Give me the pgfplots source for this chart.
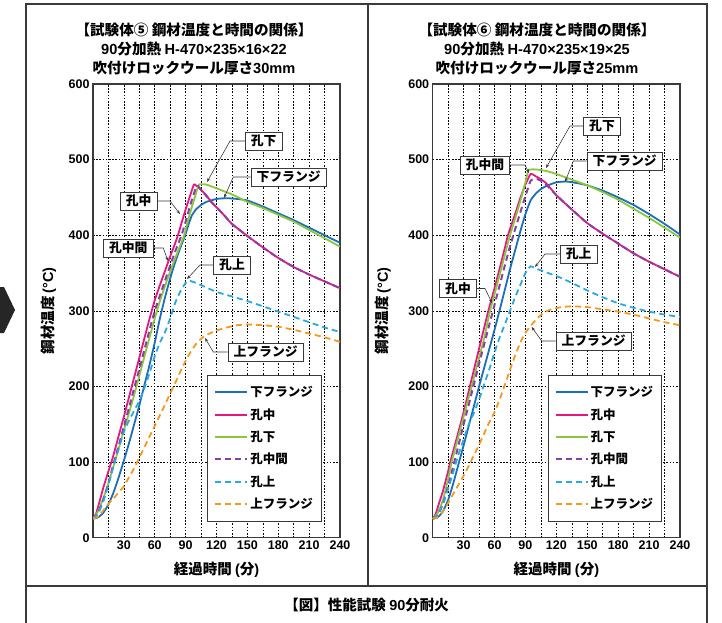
\documentclass[border=0pt]{standalone}
\usepackage{fontspec}
\setmainfont{Noto Sans CJK JP}
\newfontfamily\lat{Liberation Sans}
\usepackage{pgfplots}
\pgfplotsset{compat=1.18}
\usetikzlibrary{arrows.meta}

\definecolor{cBlue}{RGB}{26,111,184}
\definecolor{cMag}{RGB}{228,25,127}
\definecolor{cGreen}{RGB}{140,198,63}
\definecolor{cViolet}{RGB}{135,65,165}
\definecolor{cLB}{RGB}{42,168,224}
\definecolor{cOr}{RGB}{243,154,30}
\definecolor{frame}{RGB}{58,58,58}

\newcommand{\fs}[1]{\bfseries\fontsize{#1}{#1}\selectfont}
\newcommand{\la}[1]{{\lat #1}}

\pgfplotsset{panel/.style={
  scale only axis, width=247pt, height=453.7pt,
  xmin=0, xmax=240, ymin=0, ymax=600,
  xtick={30,60,...,240}, minor xtick={15,45,...,225},
  ytick={0,100,...,600},
  grid=both,
  major grid style={black, line width=0.6pt, dash pattern=on 1.6pt off 1.6pt},
  minor grid style={black, line width=0.6pt, dash pattern=on 1.6pt off 1.6pt},
  major tick length=0pt, minor tick length=0pt,
  axis line style={frame, line width=1.1pt},
  tick label style={font=\lat\fs{12.5}},
  /pgf/number format/assume math mode=true,
  xlabel={経過時間 \la{(}分\la{)}}, ylabel={鋼材温度 \la{(°C)}},
  label style={font=\fs{14.5}},
  xlabel style={at={(axis description cs:0.5,-0.07)}, anchor=center},
  legend cell align=left,
  legend style={anchor=north west, draw=frame, line width=0.9pt, fill=white,
    font=\fs{12.5}, inner xsep=6.5pt, inner ysep=9pt, row sep=6.3pt,
    nodes={inner sep=2pt}},
  legend image code/.code={\draw[#1] (0pt,0pt) -- (32pt,0pt);},
  every axis plot/.append style={line width=1.8pt, no marks, smooth, tension=0.3},
}}

\tikzset{box/.style={draw=frame, line width=0.8pt, fill=white, font=\fs{12.8},
    inner xsep=5.5pt, inner ysep=0pt, minimum height=18pt},
  lead/.style={frame, line width=0.6pt, -{Stealth[length=4pt,width=3pt]}},
  dsh/.style={dash pattern=on 6pt off 4pt}}

\begin{document}
\begin{tikzpicture}
% ---------------- left panel ----------------
\begin{axis}[panel, at={(93pt,-537.7pt)}, anchor=south west,
  ylabel style={at={(axis description cs:-0.18,0.5)}, anchor=center},
  legend style={at={(0.463,0.3586)}}]
\addplot[cBlue] coordinates {(0,25)(5,27)(10,33)(15,44)(20,60)(25,80)(30,102)(35,125)(40,150)(45,175)(50,202)(55,229)(60,258)(65,290)(70,318)(75,343)(80,365)(85,384)(90,402)(93,415)(96,426)(100,434)(105,440)(110,444)(120,448)(130,449)(140,448)(150,446)(165,438)(180,429)(195,420)(210,410)(225,400)(240,390)};
\addlegendentry{下フランジ}
\addplot[cMag] coordinates {(0,25)(3,32)(6,46)(10,66)(15,88)(19,105)(25,135)(30,160)(35,186)(40,212)(45,238)(50,264)(55,290)(60,314)(65,334)(70,353)(75,372)(80,390)(83,402)(86,416)(90,434)(95,455)(98,467)(100,466)(105,460)(110,453)(115,444)(120,437)(127,427)(135,415)(150,399)(165,384)(180,370)(195,358)(210,348)(225,339)(240,330)};
\addlegendentry{孔中}
\addplot[cGreen] coordinates {(0,25)(5,35)(10,52)(15,72)(20,95)(25,118)(30,142)(35,165)(40,189)(45,214)(50,240)(55,265)(60,290)(65,313)(70,333)(75,352)(80,370)(85,387)(88.6,400)(92,418)(96,437)(100,455)(103,467)(110,467)(120,462)(135,454)(150,444)(165,436)(180,427)(195,418)(210,407)(225,396)(240,385)};
\addlegendentry{孔下}
\addplot[color=cViolet, line width=2pt, dash pattern=on 6pt off 4pt] coordinates {(0,25)(5,33)(10,50)(15,72)(20,98)(25,122)(30,147)(35,172)(40,198)(45,223)(50,249)(55,275)(60,300)(65,320)(70,340)(75,360)(80,379)(86,400)(90,418)(95,442)(100,463)(102,465)(105,460)(110,452)(115,444)(120,437)(127,427)(135,415)(150,399)(165,384)(180,370)(195,358)(210,348)(225,339)(240,330)};
\addlegendentry{孔中間}
\addplot[cLB, dsh] coordinates {(0,25)(5,32)(10,48)(15,70)(20,95)(25,118)(30,140)(35,155)(40,168)(45,181)(50,198)(55,218)(60,240)(65,258)(70,272)(75,290)(80,311)(85,326)(90,337)(93,340)(100,337)(110,331)(120,325)(135,319)(150,313)(165,306)(180,299)(195,292)(210,285)(225,278)(240,272)};
\addlegendentry{孔上}
\addplot[cOr, dsh] coordinates {(0,25)(5,28)(10,36)(15,45)(20,52)(25,60)(30,68)(35,80)(40,92)(45,106)(50,120)(55,134)(60,148)(65,162)(70,176)(75,191)(80,205)(85,220)(90,234)(95,246)(100,256)(105,263)(110,268)(120,274)(130,278)(140,281)(150,282)(165,281)(180,279)(195,275)(210,270)(225,265)(240,259)};
\addlegendentry{上フランジ}
\end{axis}
% ---------------- right panel ----------------
\begin{axis}[panel, at={(432.7pt,-537.7pt)}, anchor=south west, width=247.3pt,
  ylabel style={at={(axis description cs:-0.2,0.5)}, anchor=center},
  legend style={at={(0.465,0.3586)}}]
\addplot[cBlue] coordinates {(0,25)(5,27)(10,35)(15,50)(20,72)(25,97)(30,122)(35,148)(40,174)(45,200)(50,225)(55,250)(60,275)(65,301)(70,328)(75,355)(80,380)(85,405)(90,428)(95,446)(100,455)(105,461)(110,465)(120,470)(130,471)(140,469)(150,466)(165,459)(180,450)(195,440)(210,428)(225,415)(240,401)};
\addlegendentry{下フランジ}
\addplot[cMag] coordinates {(0,25)(3,32)(6,45)(10,62)(15,88)(17,100)(20,115)(25,140)(30,166)(35,194)(40,222)(45,250)(50,278)(54,300)(60,330)(65,356)(70,383)(73,400)(80,428)(85,449)(90,467)(95,481)(100,478)(105,474)(110,469)(115,461)(120,453)(127,444)(135,434)(150,416)(165,402)(180,389)(195,376)(210,365)(225,355)(240,345)};
\addlegendentry{孔中}
\addplot[cGreen] coordinates {(0,25)(5,33)(10,50)(15,78)(18.4,100)(25,134)(30,160)(35,186)(37.8,200)(45,238)(50,264)(55.6,300)(60,322)(65,348)(70,374)(75,400)(80,422)(85,445)(90,470)(93,486)(100,487)(110,485)(120,481)(130,476)(140,471)(150,466)(165,457)(180,447)(195,435)(210,423)(225,410)(240,397)};
\addlegendentry{孔下}
\addplot[color=cViolet, line width=2pt, dash pattern=on 6pt off 4pt] coordinates {(0,25)(5,30)(10,45)(15,68)(20,95)(25,122)(30,150)(35,176)(40,203)(45,230)(50,256)(55,282)(60,308)(65,334)(70,360)(75,385)(80,408)(85,430)(90,452)(95,472)(98,474)(102,474)(105,472)(110,467)(115,460)(120,453)(127,444)(135,434)(150,416)(165,402)(180,389)(195,376)(210,365)(225,355)(240,345)};
\addlegendentry{孔中間}
\addplot[cLB, dsh] coordinates {(0,25)(5,30)(10,45)(15,65)(20,87)(25,110)(30,130)(35,150)(40,165)(45,183)(50,203)(55,223)(60,245)(65,265)(70,282)(75,300)(80,318)(85,334)(90,350)(95,359)(100,356)(110,351)(120,346)(127,342)(135,337)(150,327)(165,318)(180,310)(195,304)(210,299)(225,295)(240,292)};
\addlegendentry{孔上}
\addplot[cOr, dsh] coordinates {(0,25)(5,27)(10,35)(15,46)(20,58)(25,70)(30,82)(35,95)(40,109)(45,123)(50,138)(55,153)(60,166)(65,183)(70,202)(75,222)(80,241)(85,258)(90,271)(95,280)(100,288)(107,297)(115,302)(125,305)(135,306)(150,305)(165,302)(180,299)(195,295)(210,290)(225,285)(240,281)};
\addlegendentry{上フランジ}
\end{axis}
% ---------------- frame, titles, callouts ----------------
\begin{scope}[x=1pt, y=-1pt]
\draw[frame, line width=1.2pt] (26,623) -- (26,4) -- (707,4) -- (707,623);
\draw[frame, line width=1.2pt] (368,4) -- (368,586);
\draw[frame, line width=1.2pt] (26,586) -- (707,586);
\fill[black!85] (0,287) -- (4,287) -- (15,310) -- (4,333) -- (0,333) -- cycle;

\node[align=center, font=\bfseries\fontsize{14.6}{19}\selectfont] at (194,49)
  {【試験体⑤ 鋼材温度と時間の関係】\\\la{90}分加熱 \la{H-470×235×16×22}\\吹付けロックウール厚さ\la{30mm}};
\node[align=center, font=\bfseries\fontsize{14.6}{19}\selectfont] at (537,49)
  {【試験体⑥ 鋼材温度と時間の関係】\\\la{90}分加熱 \la{H-470×235×19×25}\\吹付けロックウール厚さ\la{25mm}};
\node[font=\fs{14.5}] at (366.7,605) {【図】性能試験 \la{90}分耐火};

% left callouts
\node[box, anchor=west] at (245,141) {孔下};
\draw[lead] (245,141) -- (230,141) -- (207,182);
\node[box, anchor=west] at (250.7,177) {下フランジ};
\draw[lead] (250.7,177) -- (233.3,177) -- (224,198);
\node[box, anchor=east] at (157.3,201) {孔中};
\draw[lead] (157.3,201) -- (170,201) -- (180,214);
\node[box, anchor=east] at (153.3,248) {孔中間};
\draw[lead] (153.3,248) -- (163.3,248) -- (168,261);
\node[box, anchor=west] at (213.3,265) {孔上};
\draw[lead] (213.3,265) -- (200,265) -- (187,279);
\node[box, anchor=west] at (227.7,352) {上フランジ};
\draw[lead] (227.7,352) -- (213.3,352) -- (205,338);
% right callouts
\node[box, anchor=west] at (583.3,126) {孔下};
\draw[lead] (583.3,126) -- (570,126) -- (546,168);
\node[box, anchor=west] at (586.7,161) {下フランジ};
\draw[lead] (586.7,161) -- (573.3,161) -- (565,182);
\node[box, anchor=east] at (510,165) {孔中間};
\draw[lead] (510,165) -- (525,165) -- (529,173);
\node[box, anchor=west] at (560,254) {孔上};
\draw[lead] (560,254) -- (545,254) -- (535,267);
\node[box, anchor=east] at (476.7,288.5) {孔中};
\draw[lead] (476.7,288.5) -- (485,288.5) -- (492,303);
\node[box, anchor=west] at (555.7,341) {上フランジ};
\draw[lead] (555.7,341) -- (541.7,341) -- (531.7,327);
\end{scope}
\pgfresetboundingbox
\useasboundingbox (0pt,0pt) rectangle (722pt,-623pt);
\end{tikzpicture}
\end{document}
